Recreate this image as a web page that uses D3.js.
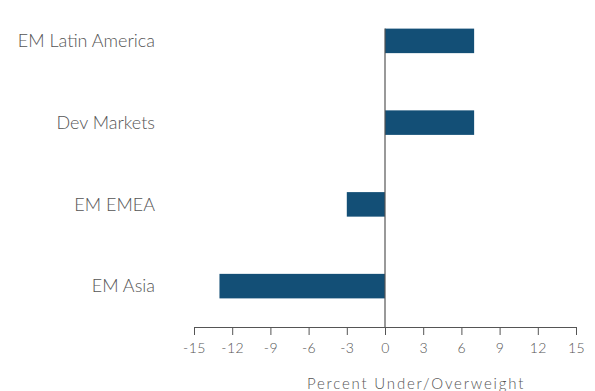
<!DOCTYPE html>
<html>
<head>
<meta charset="utf-8">
<script src="https://cdn.jsdelivr.net/npm/d3@7"></script>
<style>
  body { margin: 0; background: #fff; }
  svg text { font-family: "Lato", "DejaVu Sans", sans-serif; font-weight: 300; fill: #555; }
</style>
</head>
<body>
<div id="chart"></div>
<script>
// chart values
const categories = ["EM Latin America", "Dev Markets", "EM EMEA", "EM Asia"];
const values = [7, 7, -3, -13];
const tickValues = [-15, -12, -9, -6, -3, 0, 3, 6, 9, 12, 15];
const axisTitle = "Percent Under/Overweight";

const svgWidth = 595, svgHeight = 391;
const margin = {top: 0, right: 19, bottom: 64, left: 194};
const width = svgWidth - margin.left - margin.right;
const height = svgHeight - margin.top - margin.bottom;

const svg = d3.select("#chart").append("svg")
    .attr("width", svgWidth)
    .attr("height", svgHeight);

const plotArea = svg.append("g")
    .attr("transform", `translate(${margin.left},${margin.top})`);

const x = d3.scaleLinear()
    .domain([-15, 15])
    .range([0, width]);

const y = d3.scaleBand()
    .domain(categories)
    .range([0, height])
    .paddingInner(0.7)
    .paddingOuter(0.35);

const data = categories.map((c, i) => ({ name: c, value: values[i] }));

plotArea.selectAll("rect")
    .data(data)
    .enter().append("rect")
    .attr("x", d => x(Math.min(d.value, 0)))
    .attr("y", d => y(d.name))
    .attr("width", d => Math.abs(x(d.value) - x(0)))
    .attr("height", y.bandwidth())
    .style("fill", "#134f76");

// zero line
plotArea.append("line")
    .attr("x1", x(0)).attr("x2", x(0))
    .attr("y1", y(categories[0]))
    .attr("y2", height)
    .attr("stroke", "#555")
    .attr("stroke-width", 1.2);

// x axis
const xAxis = plotArea.append("g")
    .attr("transform", `translate(0,${height})`)
    .call(d3.axisBottom(x)
        .tickValues(tickValues)
        .tickFormat(d => String(d))
        .tickSizeOuter(0)
        .tickSize(8)
        .tickPadding(8));

xAxis.select(".domain").attr("stroke", "#555");
xAxis.selectAll(".tick line").attr("stroke", "#555");
xAxis.selectAll(".tick text")
    .style("font-size", "14px")
    .style("letter-spacing", "0.5px")
    .attr("fill", "#555");

// category labels
svg.selectAll(".cat-label")
    .data(data)
    .enter().append("text")
    .attr("class", "cat-label")
    .attr("x", 155)
    .attr("y", d => margin.top + y(d.name) + y.bandwidth() / 2)
    .attr("dy", ".35em")
    .attr("text-anchor", "end")
    .style("font-size", "18px")
    .text(d => d.name);

// axis title
svg.append("text")
    .attr("x", 416)
    .attr("y", 389)
    .attr("text-anchor", "middle")
    .style("font-size", "15px")
    .style("letter-spacing", "1.8px")
    .text(axisTitle);
</script>
</body>
</html>
